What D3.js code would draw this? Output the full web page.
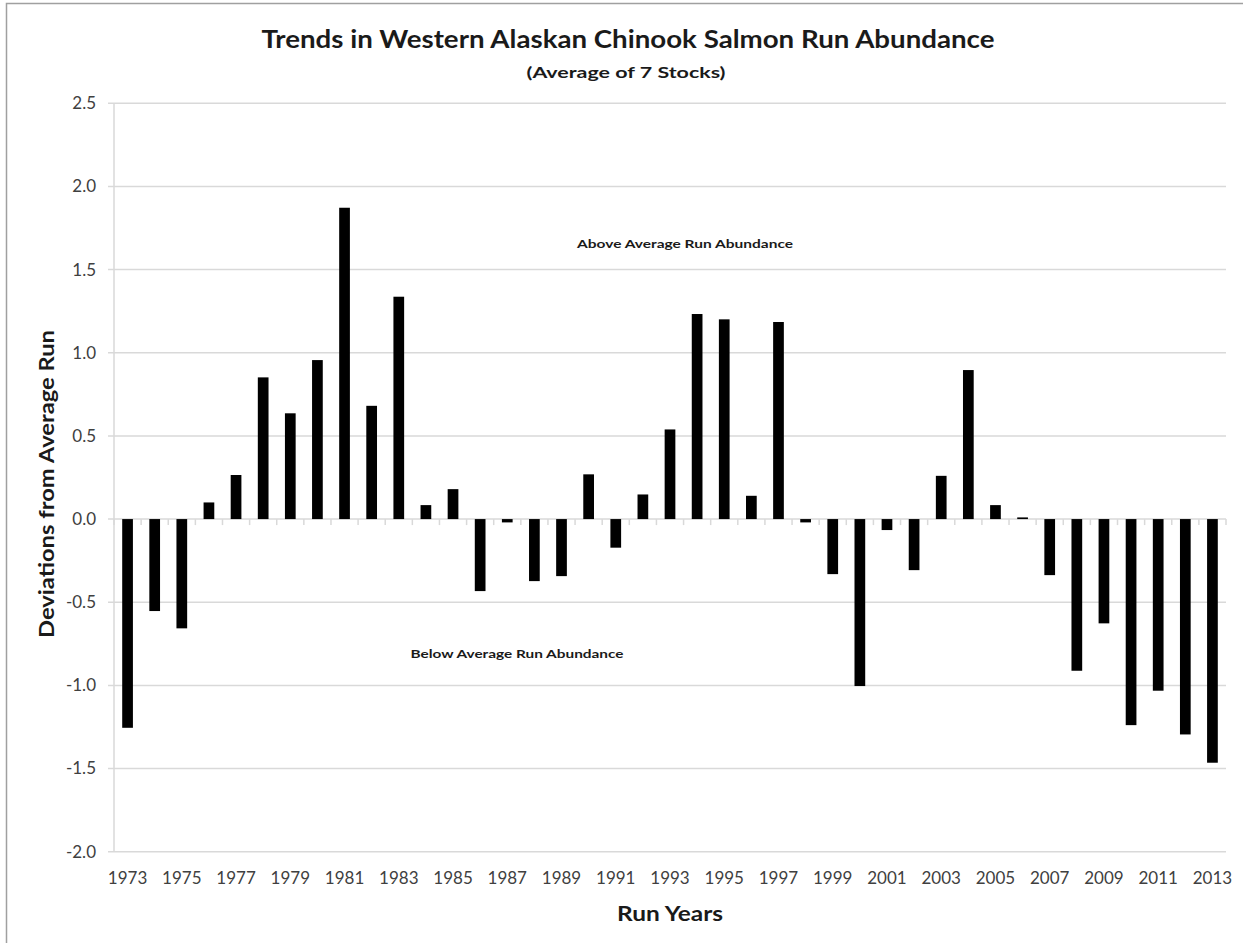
<!DOCTYPE html>
<html>
<head>
<meta charset="utf-8">
<script src="https://cdn.jsdelivr.net/npm/d3@7"></script>
<style>
  html, body { margin: 0; padding: 0; background: #fff; }
  svg { display: block; }
</style>
</head>
<body>
<svg id="chart" width="1243" height="943"></svg>
<script>
const years = [1973,1974,1975,1976,1977,1978,1979,1980,1981,1982,1983,1984,1985,1986,1987,1988,1989,1990,1991,1992,1993,1994,1995,1996,1997,1998,1999,2000,2001,2002,2003,2004,2005,2006,2007,2008,2009,2010,2011,2012,2013];
const deviations = [-1.255,-0.553,-0.657,0.10,0.265,0.852,0.636,0.956,1.872,0.681,1.337,0.084,0.18,-0.433,-0.02,-0.373,-0.343,0.269,-0.172,0.148,0.539,1.233,1.201,0.14,1.185,-0.02,-0.331,-1.004,-0.066,-0.307,0.26,0.896,0.084,0.01,-0.337,-0.912,-0.627,-1.239,-1.032,-1.295,-1.465];
const yTicks = [-2.0,-1.5,-1.0,-0.5,0.0,0.5,1.0,1.5,2.0,2.5];
const xTickLabels = years.filter((y,i) => i % 2 === 0);
const titleText = "Trends in Western Alaskan Chinook Salmon Run Abundance";
const subtitleText = "(Average of 7 Stocks)";
const yLabelText = "Deviations from Average Run";
const xLabelText = "Run Years";
const aboveText = "Above Average Run Abundance";
const belowText = "Below Average Run Abundance";

const svg = d3.select("#chart");
const font = "Lato, 'Open Sans', 'Liberation Sans', sans-serif";

// frame (top + left edges visible)
svg.append("path")
  .attr("d", "M6.5,943 L6.5,3.5 L1243,3.5")
  .attr("fill", "none").attr("stroke", "#a0a0a0").attr("stroke-width", 1.5);

const plot = { left: 114, right: 1226, top: 103.3, bottom: 851.7 };

const x = d3.scaleBand().domain(years).range([plot.left, plot.right])
  .paddingInner(0.605).paddingOuter(0.3025);
const y = d3.scaleLinear().domain([-2, 2.5]).range([plot.bottom, plot.top]);

// gridlines
svg.append("g").selectAll("line").data(yTicks).join("line")
  .attr("x1", plot.left - 6).attr("x2", plot.right)
  .attr("y1", d => y(d)).attr("y2", d => y(d))
  .attr("stroke", "#d9d9d9").attr("stroke-width", 1.5);

// y axis line
svg.append("line")
  .attr("x1", plot.left).attr("x2", plot.left)
  .attr("y1", plot.top).attr("y2", plot.bottom)
  .attr("stroke", "#d9d9d9").attr("stroke-width", 1.5);

// y tick labels (ASCII hyphen minus, as in the reference)
svg.append("g").selectAll("text").data(yTicks).join("text")
  .attr("x", 96).attr("y", d => y(d))
  .attr("dy", "0.35em").attr("text-anchor", "end")
  .attr("font-family", font).attr("font-size", 17).attr("fill", "#404040")
  .text(d => d.toFixed(1));

// bars
const step = x.step();
svg.append("g").selectAll("rect").data(years).join("rect")
  .attr("x", d => x(d))
  .attr("width", x.bandwidth())
  .attr("y", (d,i) => Math.min(y(0), y(deviations[i])))
  .attr("height", (d,i) => Math.max(1, Math.abs(y(deviations[i]) - y(0))))
  .attr("fill", "#000");

// x tick marks at band boundaries, below zero line
const boundaries = years.map(d => x(d) - (step - x.bandwidth()) / 2);
boundaries.push(plot.right);
svg.append("g").selectAll("line").data(boundaries).join("line")
  .attr("x1", d => d).attr("x2", d => d)
  .attr("y1", y(0)).attr("y2", y(0) + 6)
  .attr("stroke", "#d9d9d9").attr("stroke-width", 1.5);

// x tick labels
svg.append("g").selectAll("text").data(xTickLabels).join("text")
  .attr("x", d => x(d) + x.bandwidth() / 2).attr("y", 884)
  .attr("text-anchor", "middle")
  .attr("font-family", font).attr("font-size", 17).attr("fill", "#404040")
  .text(d => d);

// titles
function fitText(txt, cx, cy, size, len, rotate) {
  const t = svg.append("text")
    .attr("x", cx).attr("y", cy)
    .attr("text-anchor", "middle").attr("dominant-baseline", "central")
    .attr("font-family", font).attr("font-weight", "bold")
    .attr("font-size", size).attr("fill", "#1a1a1a")
    .attr("textLength", len).attr("lengthAdjust", "spacingAndGlyphs")
    .text(txt);
  if (rotate) t.attr("transform", `rotate(-90,${cx},${cy})`);
  return t;
}
fitText(titleText, 628, 38, 25, 733);
fitText(subtitleText, 626, 71, 16, 199);
fitText(yLabelText, 45, 484, 21, 308, true);
fitText(xLabelText, 670, 912, 21, 106);
fitText(aboveText, 685, 243, 12, 216);
fitText(belowText, 517, 653, 12, 213);
</script>
</body>
</html>
